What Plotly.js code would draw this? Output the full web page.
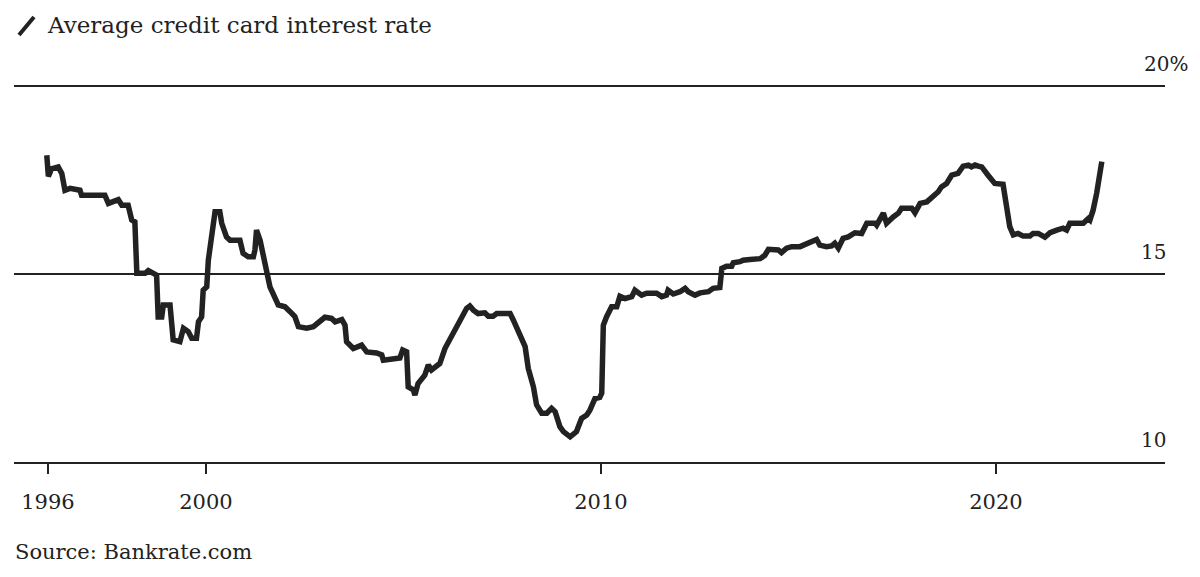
<!DOCTYPE html>
<html>
<head>
<meta charset="utf-8">
<script src="https://cdn.plot.ly/plotly-3.0.1.min.js"></script>
<style>
  html, body { margin: 0; padding: 0; background: #fff; }
  #chart { width: 1200px; height: 577px; }
</style>
</head>
<body>
<div id="chart"></div>
<script>
// ---- Data ----
const years = [
  1995.97, 1996.01, 1996.09, 1996.26, 1996.35, 1996.43, 1996.56, 1996.81, 1996.85, 1997.44,
  1997.53, 1997.61, 1997.78, 1997.87, 1998.03, 1998.12, 1998.20, 1998.25, 1998.46, 1998.54,
  1998.75, 1998.79, 1998.88, 1998.92, 1999.09, 1999.17, 1999.34, 1999.43, 1999.55, 1999.64,
  1999.76, 1999.81, 1999.89, 1999.93, 2000.02, 2000.06, 2000.14, 2000.23, 2000.35, 2000.40,
  2000.52, 2000.61, 2000.86, 2000.94, 2001.07, 2001.20, 2001.24, 2001.28, 2001.37, 2001.45,
  2001.54, 2001.62, 2001.83, 2002.00, 2002.13, 2002.25, 2002.34, 2002.55, 2002.72, 2002.89,
  2003.01, 2003.18, 2003.27, 2003.44, 2003.52, 2003.56, 2003.73, 2003.94, 2004.07, 2004.32,
  2004.45, 2004.49, 2004.66, 2004.74, 2004.91, 2004.98, 2005.08, 2005.12, 2005.25, 2005.29,
  2005.37, 2005.54, 2005.63, 2005.71, 2005.84, 2005.92, 2006.05, 2006.22, 2006.35, 2006.47,
  2006.60, 2006.68, 2006.77, 2006.89, 2007.06, 2007.15, 2007.27, 2007.36, 2007.70, 2007.78,
  2007.95, 2008.08, 2008.16, 2008.29, 2008.37, 2008.50, 2008.63, 2008.75, 2008.84, 2008.96,
  2009.05, 2009.22, 2009.38, 2009.51, 2009.64, 2009.72, 2009.85, 2009.97, 2010.02, 2010.06,
  2010.14, 2010.23, 2010.27, 2010.40, 2010.48, 2010.61, 2010.78, 2010.86, 2011.03, 2011.16,
  2011.41, 2011.54, 2011.66, 2011.70, 2011.83, 2012.00, 2012.13, 2012.21, 2012.38, 2012.51,
  2012.72, 2012.84, 2013.01, 2013.06, 2013.18, 2013.31, 2013.35, 2013.52, 2013.60, 2013.77,
  2014.03, 2014.15, 2014.24, 2014.49, 2014.57, 2014.70, 2014.83, 2015.04, 2015.21, 2015.37,
  2015.46, 2015.54, 2015.71, 2015.84, 2015.92, 2016.01, 2016.13, 2016.26, 2016.43, 2016.60,
  2016.73, 2016.94, 2016.98, 2017.15, 2017.23, 2017.40, 2017.53, 2017.61, 2017.87, 2017.95,
  2018.08, 2018.25, 2018.41, 2018.54, 2018.62, 2018.75, 2018.88, 2019.04, 2019.17, 2019.30,
  2019.38, 2019.47, 2019.55, 2019.64, 2019.80, 2019.97, 2020.18, 2020.27, 2020.35, 2020.44,
  2020.56, 2020.69, 2020.86, 2020.94, 2021.07, 2021.24, 2021.37, 2021.54, 2021.70, 2021.79,
  2021.87, 2022.21, 2022.34, 2022.38, 2022.46, 2022.55, 2022.62, 2022.68
];
const rates = [
  18.16, 17.60, 17.80, 17.85, 17.68, 17.23, 17.28, 17.23, 17.10, 17.10,
  16.88, 16.92, 16.98, 16.83, 16.83, 16.44, 16.39, 15.02, 15.02, 15.09,
  14.97, 13.86, 13.86, 14.18, 14.18, 13.25, 13.20, 13.56, 13.47, 13.29,
  13.29, 13.73, 13.86, 14.57, 14.66, 15.37, 15.90, 16.66, 16.66, 16.35,
  15.99, 15.90, 15.90, 15.55, 15.46, 15.46, 15.64, 16.17, 15.90, 15.55,
  15.02, 14.66, 14.18, 14.13, 14.00, 13.87, 13.60, 13.56, 13.60, 13.73,
  13.85, 13.82, 13.73, 13.79, 13.64, 13.20, 13.02, 13.11, 12.93, 12.90,
  12.85, 12.71, 12.73, 12.77, 12.77, 12.98, 12.93, 12.00, 11.92, 11.78,
  12.09, 12.31, 12.58, 12.45, 12.53, 12.62, 13.02, 13.33, 13.60, 13.82,
  14.09, 14.15, 14.04, 13.95, 13.97, 13.88, 13.88, 13.95, 13.95, 13.78,
  13.33, 13.07, 12.49, 12.00, 11.52, 11.30, 11.30, 11.43, 11.34, 10.94,
  10.81, 10.67, 10.81, 11.16, 11.25, 11.38, 11.69, 11.72, 11.83, 13.64,
  13.86, 14.09, 14.13, 14.13, 14.41, 14.35, 14.40, 14.57, 14.44, 14.49,
  14.49, 14.40, 14.44, 14.57, 14.47, 14.53, 14.62, 14.53, 14.44, 14.50,
  14.53, 14.62, 14.64, 15.15, 15.21, 15.21, 15.30, 15.33, 15.37, 15.39,
  15.41, 15.50, 15.66, 15.64, 15.57, 15.69, 15.73, 15.73, 15.82, 15.90,
  15.92, 15.77, 15.73, 15.75, 15.82, 15.69, 15.95, 15.99, 16.10, 16.08,
  16.35, 16.35, 16.30, 16.62, 16.35, 16.52, 16.62, 16.75, 16.75, 16.63,
  16.88, 16.92, 17.06, 17.19, 17.32, 17.41, 17.63, 17.68, 17.87, 17.90,
  17.85, 17.90, 17.87, 17.85, 17.63, 17.41, 17.39, 16.88, 16.26, 16.04,
  16.08, 16.01, 16.01, 16.08, 16.08, 15.98, 16.10, 16.17, 16.22, 16.17,
  16.35, 16.35, 16.48, 16.44, 16.70, 17.15, 17.59, 17.99
];
const xTickVals = [1996, 2000, 2010, 2020];
const xTickText = ['1996', '2000', '2010', '2020'];
const yTickVals = [10, 15, 20];
const yTickText = ['10', '15', '20%'];
const titleText = 'Average credit card interest rate';
const sourceText = 'Source: Bankrate.com';

// ---- Layout ----
const W = 1200, H = 577;
const M = { l: 14, r: 35, t: 85, b: 115 };
const plotW = W - M.l - M.r, plotH = H - M.t - M.b;
const px2paperX = px => (px - M.l) / plotW;
const px2paperY = py => (H - M.b - py) / plotH;
const FONT = '"DejaVu Serif", "Liberation Serif", serif';
const INK = '#222222';

const trace = {
  x: years,
  y: rates,
  type: 'scatter',
  mode: 'lines',
  line: { color: INK, width: 5.5, shape: 'linear' },
  hoverinfo: 'skip'
};

const yLabelAnnotations = yTickVals.map((v, i) => ({
  xref: 'paper', yref: 'y',
  x: px2paperX(1168), y: v,
  xanchor: 'right', yanchor: 'bottom',
  xshift: yTickText[i].includes('%') ? 22 : 0,
  yshift: 8,
  text: yTickText[i],
  showarrow: false,
  font: { family: FONT, size: 20, color: INK }
}));

const layout = {
  width: W, height: H,
  margin: M,
  paper_bgcolor: '#ffffff',
  plot_bgcolor: '#ffffff',
  showlegend: false,
  title: {
    text: titleText,
    xref: 'container', yref: 'container',
    x: 48 / W, xanchor: 'left',
    y: 1 - 25 / H, yanchor: 'middle',
    font: { family: FONT, size: 23, color: INK }
  },
  xaxis: {
    range: [1995.14, 2024.28],
    tickvals: xTickVals,
    ticktext: xTickText,
    ticks: 'outside', ticklen: 10, tickwidth: 1.5, tickcolor: INK,
    showline: true, linecolor: INK, linewidth: 2,
    showgrid: false, zeroline: false,
    ticklabelstandoff: 10,
    tickfont: { family: FONT, size: 21, color: INK },
    fixedrange: true
  },
  yaxis: {
    range: [10, 20.03],
    tickvals: yTickVals,
    showticklabels: false,
    showgrid: true, gridcolor: INK, gridwidth: 1.5,
    zeroline: false, showline: false, ticks: '',
    fixedrange: true
  },
  shapes: [
    { type: 'line', xref: 'paper', yref: 'paper',
      x0: px2paperX(19), y0: px2paperY(35), x1: px2paperX(34), y1: px2paperY(17),
      line: { color: INK, width: 4 } }
  ],
  annotations: yLabelAnnotations.concat([
    { xref: 'paper', yref: 'paper', x: px2paperX(13), y: px2paperY(552),
      xanchor: 'left', yanchor: 'middle', showarrow: false,
      text: sourceText, font: { family: FONT, size: 21, color: INK } }
  ])
};

Plotly.newPlot('chart', [trace], layout, { displayModeBar: false, staticPlot: true });
</script>
</body>
</html>
